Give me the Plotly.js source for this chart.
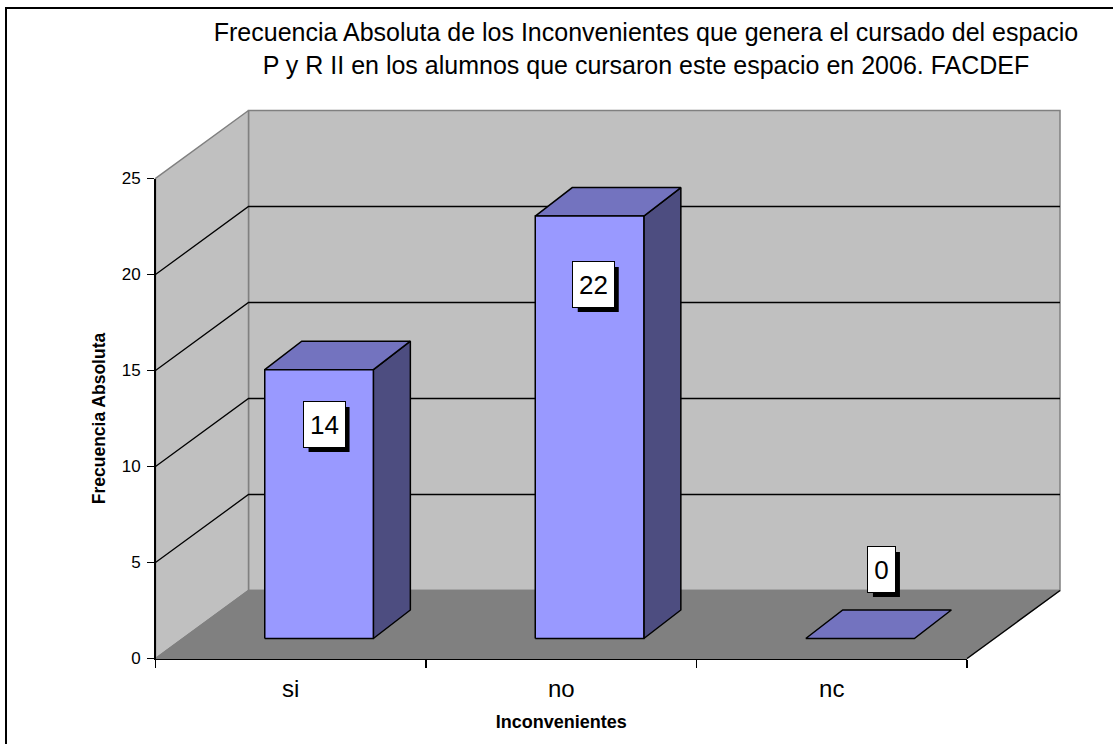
<!DOCTYPE html>
<html>
<head>
<meta charset="utf-8">
<script src="https://cdn.plot.ly/plotly-3.0.1.min.js"></script>
<style>html,body{margin:0;padding:0;background:#fff}#chart{width:1113px;height:744px}</style>
</head>
<body>
<div id="chart"></div>
<script>
// ---- data ----
const categories = ['si', 'no', 'nc'];
const values = [14, 22, 0];
const yTicks = [0, 5, 10, 15, 20, 25];
const gridValues = [5, 10, 15, 20];

// ---- frame in pixels ----
const W = 1113, H = 744;
const plotL = 150, plotR = 1066, plotT = 104, plotB = 664;
const axisL = 155.5, axisR = 967, axisB = 658.5, axisT = 178.5;
const pxPerCat = (axisR - axisL) / categories.length;
const yMax = yTicks[yTicks.length - 1];
const pxPerUnit = (axisB - axisT) / yMax;

// wide axes share the scale of the visible axes
const xLo = -0.5 - (axisL - plotL) / pxPerCat;
const xHi = -0.5 + (plotR - axisL) / pxPerCat;
const yLo = -(plotB - axisB) / pxPerUnit;
const yHi = (axisB - plotT) / pxPerUnit;

// ---- 3D projection ----
const floorDX = 93 / pxPerCat, floorDY = 68 / pxPerUnit;
const barFrontDX = 28.3 / pxPerCat, barFrontDY = 20 / pxPerUnit;
const barDX = 37 / pxPerCat, barDY = 28.5 / pxPerUnit;
const barHalf = 54.3 / pxPerCat;
const xA = -0.5, xB = categories.length - 0.5;

const wall = '#c0c0c0', floor = '#808080', edge = '#808080';
const faceFront = '#9999ff', faceTop = '#7373bf', faceSide = '#4d4d80';

function poly(xs, ys, fill, line, width) {
  return {type: 'scatter', mode: 'lines', x: xs.concat(xs[0]), y: ys.concat(ys[0]),
    fill: 'toself', fillcolor: fill, line: {color: line, width: width},
    hoverinfo: 'skip', showlegend: false, xaxis: 'x', yaxis: 'y'};
}
const traces = [];
traces.push(poly([xA + floorDX, xB + floorDX, xB + floorDX, xA + floorDX],
                 [floorDY, floorDY, yMax + floorDY, yMax + floorDY], wall, edge, 1.5));
traces.push(poly([xA, xA + floorDX, xA + floorDX, xA],
                 [0, floorDY, yMax + floorDY, yMax], wall, edge, 1.5));
traces.push(poly([xA, xB, xB + floorDX, xA + floorDX],
                 [0, 0, floorDY, floorDY], floor, edge, 1.5));
// black right edge of floor
traces.push({type: 'scatter', mode: 'lines', x: [xB, xB + floorDX], y: [0, floorDY],
  line: {color: '#000', width: 1.3}, hoverinfo: 'skip', showlegend: false});
// gridlines on side and back walls
gridValues.forEach(v => traces.push({type: 'scatter', mode: 'lines',
  x: [xA, xA + floorDX, xB + floorDX], y: [v, v + floorDY, v + floorDY],
  line: {color: '#000', width: 1.3}, hoverinfo: 'skip', showlegend: false}));

// bars
values.forEach((v, i) => {
  const l = i + barFrontDX - barHalf, r = i + barFrontDX + barHalf;
  const b = barFrontDY, t = barFrontDY + v;
  if (v > 0) traces.push(poly([r, r + barDX, r + barDX, r], [b, b + barDY, t + barDY, t], faceSide, '#000', 1.5));
  traces.push(poly([l, r, r + barDX, l + barDX], [t, t, t + barDY, t + barDY], faceTop, '#000', 1.5));
  if (v > 0) traces.push(poly([l, r, r, l], [b, b, t, t], faceFront, '#000', 1.5));
});

// visible axes subplot: transparent bars carry the category axis
traces.push({type: 'bar', x: categories, y: values, xaxis: 'x2', yaxis: 'y2',
  marker: {color: 'rgba(0,0,0,0)'}, showlegend: false, hoverinfo: 'x+y'});

// ---- data labels (pixel offsets from each bar's value point, down positive) ----
const labelShiftX = [33.3, 32, 49.7];
const labelShiftDown = [34.8, 48.4, -89];
const labelW = [41, 41, 27], labelH = 45, shadow = 5;
const annotations = values.map((v, i) => ({
  x: i, y: v, xref: 'x', yref: 'y', xanchor: 'center', yanchor: 'middle',
  xshift: labelShiftX[i], yshift: -labelShiftDown[i],
  text: String(v), showarrow: false, width: labelW[i], height: labelH, borderpad: 0,
  bgcolor: '#fff', bordercolor: '#000', borderwidth: 1,
  font: {family: 'Liberation Sans', size: 26, color: '#000'}
}));

const shapes = values.map((v, i) => ({
  type: 'rect', xref: 'x', yref: 'y', xsizemode: 'pixel', ysizemode: 'pixel',
  xanchor: i, yanchor: v,
  x0: labelShiftX[i] - labelW[i] / 2 + shadow, x1: labelShiftX[i] + labelW[i] / 2 + shadow,
  y0: -labelShiftDown[i] - labelH / 2 - shadow, y1: -labelShiftDown[i] + labelH / 2 - shadow,
  fillcolor: '#000', line: {width: 0}, layer: 'above'
}));
// outer chart border: left and top edges only
const pw = plotR - plotL, ph = plotB - plotT;
const px2x = p => (p - plotL) / pw, px2y = p => (plotB - p) / ph;
shapes.push({type: 'line', xref: 'paper', yref: 'paper', x0: px2x(6), x1: px2x(6), y0: px2y(744), y1: px2y(8),
  line: {color: '#000', width: 2}, layer: 'below'});
shapes.push({type: 'line', xref: 'paper', yref: 'paper', x0: px2x(5), x1: px2x(1113), y0: px2y(8), y1: px2y(8),
  line: {color: '#000', width: 2}, layer: 'below'});

const layout = {
  width: W, height: H,
  margin: {l: plotL, r: W - plotR, t: plotT, b: H - plotB, pad: 0},
  paper_bgcolor: '#fff', plot_bgcolor: 'rgba(0,0,0,0)',
  font: {family: 'Liberation Sans', color: '#000'},
  showlegend: false, bargap: 0.5,
  title: {text: 'Frecuencia Absoluta de los Inconvenientes que genera el cursado del espacio<br>P y R II en los alumnos que cursaron este espacio en 2006. FACDEF',
    x: 646 / W, xanchor: 'center', y: 1 - 41 / H, yanchor: 'middle',
    font: {family: 'Liberation Sans', size: 25, color: '#000'}},
  xaxis: {domain: [0, 1], range: [xLo, xHi], visible: false, fixedrange: true},
  yaxis: {domain: [0, 1], range: [yLo, yHi], visible: false, fixedrange: true},
  xaxis2: {anchor: 'y2', type: 'category', categoryarray: categories, categoryorder: 'array',
    domain: [(axisL - plotL) / pw, (axisR - plotL) / pw], range: [-0.5, 2.5],
    tickson: 'boundaries', ticks: 'outside', ticklen: 8, tickwidth: 1.5, tickcolor: '#000',
    ticklabelstandoff: 8,
    showline: true, linecolor: '#000', linewidth: 1.5, showgrid: false, zeroline: false,
    tickfont: {family: 'Liberation Sans', size: 24, color: '#000'},
    title: {text: 'Inconvenientes', standoff: 14, font: {family: 'Liberation Sans', size: 18, color: '#000', weight: 'bold'}}},
  yaxis2: {anchor: 'x2', domain: [(plotB - axisB) / ph, (plotB - axisT) / ph], range: [0, yMax],
    tickmode: 'array', tickvals: yTicks, ticktext: yTicks.map(String),
    ticks: 'outside', ticklen: 7, tickwidth: 1.5, tickcolor: '#000', ticklabelstandoff: 3,
    showline: true, linecolor: '#000', linewidth: 1.5, showgrid: false, zeroline: false,
    tickfont: {family: 'Liberation Sans', size: 17, color: '#000'},
    title: {text: 'Frecuencia Absoluta', standoff: 11, font: {family: 'Liberation Sans', size: 17.5, color: '#000', weight: 'bold'}}},
  annotations: annotations,
  shapes: shapes
};
Plotly.newPlot('chart', traces, layout, {displayModeBar: false, staticPlot: true});
</script>
</body>
</html>
